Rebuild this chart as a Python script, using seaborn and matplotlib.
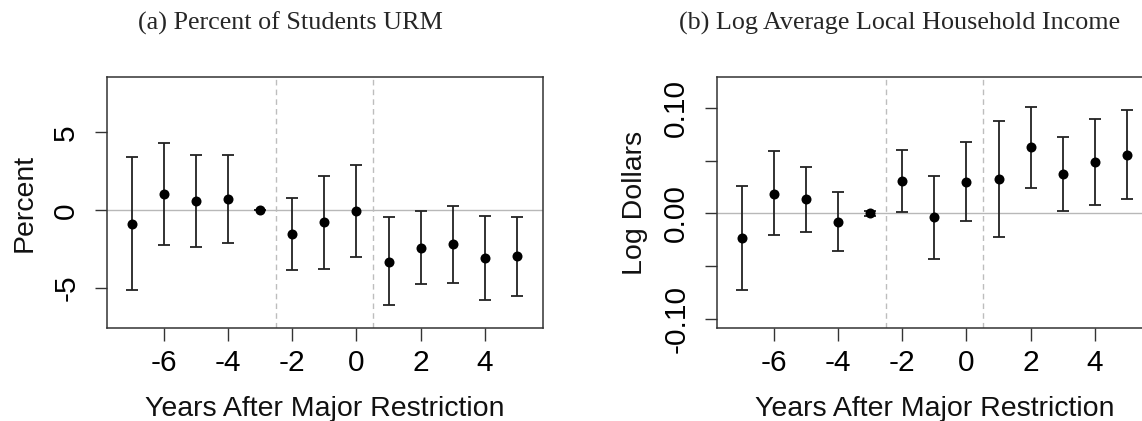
import numpy as np
import pandas as pd
import matplotlib
matplotlib.use("Agg")
import matplotlib.pyplot as plt
import seaborn as sns

# ---------------- data ----------------
years = [-7, -6, -5, -4, -3, -2, -1, 0, 1, 2, 3, 4, 5]

urm_est = [-0.86, 1.03, 0.58, 0.73, 0.0, -1.52, -0.77, -0.06, -3.30, -2.40, -2.17, -3.07, -2.96]
urm_hi = [3.45, 4.31, 3.54, 3.58, 0.0, 0.82, 2.23, 2.88, -0.45, -0.04, 0.30, -0.34, -0.41]
urm_lo = [-5.15, -2.23, -2.34, -2.12, 0.0, -3.84, -3.76, -2.98, -6.09, -4.72, -4.66, -5.77, -5.49]

inc_est = [-0.0234, 0.0187, 0.0133, -0.0079, 0.0, 0.0310, -0.0038, 0.0297, 0.0323, 0.0627, 0.0370, 0.0487, 0.0554]
inc_hi = [0.0263, 0.0589, 0.0440, 0.0203, 0.0025, 0.0604, 0.0358, 0.0671, 0.0870, 0.1006, 0.0718, 0.0889, 0.0978]
inc_lo = [-0.0728, -0.0209, -0.0177, -0.0361, -0.0025, 0.0009, -0.0430, -0.0076, -0.0222, 0.0244, 0.0019, 0.0082, 0.0133]

x_ticks = [-6, -4, -2, 0, 2, 4]
x_ticklabels = ["-6", "-4", "-2", "0", "2", "4"]
urm_yticks = [-5, 0, 5]
urm_yticklabels = ["-5", "0", "5"]
inc_yticks = [-0.10, -0.05, 0.00, 0.05, 0.10]
inc_yticklabels = ["-0.10", "", "0.00", "", "0.10"]
event_lines = [-2.5, 0.5]

titles = ["(a) Percent of Students URM", "(b) Log Average Local Household Income"]
ylabels = ["Percent", "Log Dollars"]
xlabel = "Years After Major Restriction"

# ---------------- style ----------------
sns.set_theme(style="white")
plt.rcParams["font.family"] = ["Liberation Sans", "DejaVu Sans"]

W, H = 1142, 421
fig = plt.figure(figsize=(W / 100, H / 100), dpi=100)

def px_axes(left, top, right, bottom):
    return fig.add_axes([left / W, 1 - bottom / H, (right - left) / W, (bottom - top) / H])

AX_W, AX_H = 436.0, 250.4
ax1 = px_axes(106.7, 77.3, 106.7 + AX_W, 77.3 + AX_H)
ax2 = px_axes(716.7, 77.3, 716.7 + AX_W, 77.3 + AX_H)

panels = [
    (ax1, urm_est, urm_lo, urm_hi, urm_yticks, urm_yticklabels, (-7.54, 8.54)),
    (ax2, inc_est, inc_lo, inc_hi, inc_yticks, inc_yticklabels, (-0.1083, 0.1288)),
]

TICK_FS = 21.5
LABEL_FS = 20.5

for i, (ax, est, lo, hi, yt, ytl, ylim) in enumerate(panels):
    df = pd.DataFrame({"year": years, "est": est, "lo": lo, "hi": hi})
    ax.axhline(0, color="#b8b8b8", lw=1.0, zorder=1)
    for xv in event_lines:
        ax.axvline(xv, color="#bdbdbd", lw=1.0, ls=(0, (4, 3)), zorder=1)
    ax.errorbar(df["year"], df["est"],
                yerr=[df["est"] - df["lo"], df["hi"] - df["est"]],
                fmt="none", ecolor="#222222", elinewidth=1.3, capsize=4.6,
                capthick=1.3, zorder=2)
    sns.scatterplot(data=df, x="year", y="est", ax=ax, color="black", s=52,
                    edgecolor="black", linewidth=0, zorder=3)
    ax.set_xlim(-7.78, 5.8)
    ax.set_ylim(*ylim)
    ax.set_xticks(x_ticks)
    ax.set_xticklabels(x_ticklabels)
    ax.set_yticks(yt)
    ax.set_yticklabels(ytl, rotation=90, va="center")
    ax.tick_params(axis="both", direction="out", length=9, width=1.0, color="#333333",
                   labelsize=TICK_FS, labelcolor="black")
    ax.tick_params(axis="x", pad=6, bottom=True)
    ax.tick_params(axis="y", pad=10, left=True)
    ax.set_xlabel(xlabel, fontsize=LABEL_FS, color="#111111")
    ax.set_ylabel(ylabels[i], fontsize=LABEL_FS, color="#111111")
    ax.xaxis.label.set_va("baseline")
    ax.xaxis.set_label_coords(0.5, -(415.5 - 327.7) / AX_H)
    ax.yaxis.label.set_va("baseline")
    ax.yaxis.set_label_coords(-75.0 / AX_W, 0.5)
    for sp in ax.spines.values():
        sp.set_visible(True)
        sp.set_color("#333333")
        sp.set_linewidth(1.1)
    ax.grid(False)

fig.text(290 / W, 1 - 23 / H, titles[0], ha="center", va="center",
         fontsize=18.8, family=["Liberation Serif", "DejaVu Serif"])
fig.text(900 / W, 1 - 23 / H, titles[1], ha="center", va="center",
         fontsize=18.8, family=["Liberation Serif", "DejaVu Serif"])

fig.savefig("out.png", dpi=100)
